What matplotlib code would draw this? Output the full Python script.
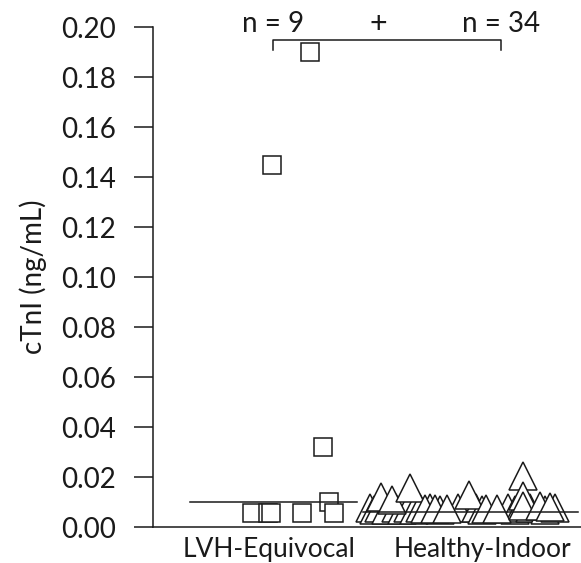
import matplotlib
matplotlib.use('Agg')
import matplotlib.pyplot as plt

plt.rcParams['font.family'] = ['Lato', 'DejaVu Sans']

# ── Data ──────────────────────────────────────────────────────────────────────
groups = ['LVH-Equivocal', 'Healthy-Indoor']
group_pos = [1, 2]
n_labels = ['n = 9', 'n = 34']

lvh_jitter = [-0.092, -0.022, -0.009, 0.127, 0.246, 0.268, 0.219, -0.004, 0.162]
lvh_vals = [0.0056, 0.0056, 0.0056, 0.0056, 0.0100, 0.0056, 0.032, 0.145, 0.190]

healthy_jitter = [-0.575, -0.557, -0.535, -0.504, -0.461, -0.434, -0.408, -0.382,
                  -0.355, -0.311, -0.268, -0.189, -0.110, -0.083, 0.031, 0.061,
                  0.083, 0.127, 0.193, 0.237,
                  -0.526, -0.478, -0.399, -0.333, -0.289, -0.237, -0.140, -0.066,
                  -0.018, 0.096, 0.096, 0.096, 0.171, 0.215]
healthy_vals = [0.0075, 0.0070, 0.0075, 0.0070, 0.0075, 0.0070, 0.0075, 0.0070,
                0.0075, 0.0075, 0.0070, 0.0075, 0.0075, 0.0070, 0.0075, 0.0070,
                0.0075, 0.0075, 0.0070, 0.0075,
                0.012, 0.011, 0.0155, 0.0072, 0.0072, 0.0072, 0.013, 0.0072,
                0.0072, 0.0205, 0.0125, 0.0085, 0.0085, 0.0080]

medians = [0.010, 0.006]
median_span = [(-0.364, 0.368), (-0.605, 0.338)]

# ── Plot ──────────────────────────────────────────────────────────────────────
fig = plt.figure(figsize=(5.81, 5.63), dpi=100)
ax = fig.add_axes([0.2633, 0.0639, 0.7367, 0.8881])
ec = '#1a1a1a'

ax.plot([group_pos[0] + j for j in lvh_jitter], lvh_vals, ls='none', marker='s',
        ms=13.3, mfc='white', mec=ec, mew=1.1, zorder=3)
ax.plot([group_pos[1] + j for j in healthy_jitter], healthy_vals, ls='none', marker='^',
        ms=20, mfc='white', mec=ec, mew=1.1, zorder=3)

for p, m, (a, b) in zip(group_pos, medians, median_span):
    ax.plot([p + a, p + b], [m, m], color=ec, lw=1.1, zorder=4)

# significance bracket
yb, yt = 0.1948, 0.1908
ax.plot([group_pos[0], group_pos[0], group_pos[1], group_pos[1]], [yt, yb, yb, yt],
        color=ec, lw=1.1, clip_on=False)
for p, t in zip(group_pos, n_labels):
    ax.text(p, 0.2012, t, ha='center', va='center', fontsize=20, color=ec, clip_on=False)
ax.text(sum(group_pos) / 2 - 0.04, 0.2012, '+', ha='center', va='center',
        fontsize=22, color=ec, clip_on=False)

ax.set_xlim(0.474, 2.351)
ax.set_ylim(0, 0.20)
ax.set_yticks([i * 0.02 for i in range(11)])
ax.set_yticklabels([f'{i * 0.02:.2f}' for i in range(11)])
ax.set_xticks([0.985, 1.92])
ax.set_xticklabels(groups)
ax.tick_params(axis='y', direction='out', length=13.5, width=1.1, color=ec,
               labelsize=20, labelcolor=ec, pad=13)
ax.tick_params(axis='x', length=0, labelsize=19, labelcolor=ec, pad=7)
ax.set_ylabel('cTnI (ng/mL)', fontsize=20, color=ec, labelpad=10)

for s in ['top', 'right']:
    ax.spines[s].set_visible(False)
for s in ['left', 'bottom']:
    ax.spines[s].set_linewidth(1.1)
    ax.spines[s].set_color(ec)

fig.savefig('out.png', dpi=100, facecolor='white')
